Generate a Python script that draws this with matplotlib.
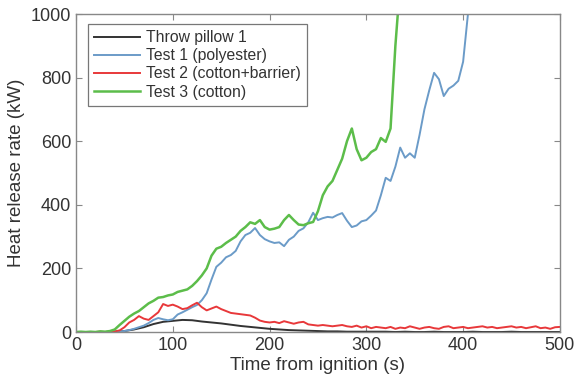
import numpy as np
import matplotlib.pyplot as plt

# heat release rate (kW) at 5 s steps
t_pillow = np.arange(0, 510, 10)
hrr_pillow = [0, 0, 0, 0, 1, 3, 8, 15, 25, 32, 35, 38, 37, 33, 30, 27, 23, 19, 16, 13,
              10, 8, 6, 5, 4, 3, 2, 2, 1, 1, 1, 1, 1, 0, 1, 0, 0, 1, 0, 0,
              0, 1, 0, 0, 0, 1, 0, 0, 0, 0, 0]

t_test1 = np.arange(0, 415, 5)
hrr_test1 = [0, 0, 0, 0, 0, 0, 0, 1, 1, 2, 3, 6, 10, 15, 20, 28, 38, 44, 40, 37,
             40, 55, 62, 70, 78, 85, 100, 122, 165, 205, 218, 235, 242, 255, 285, 305, 312, 327, 305, 292,
             285, 280, 282, 270, 290, 300, 318, 326, 345, 375, 352, 358, 362, 360, 368, 374, 350, 330, 335, 348,
             352, 366, 382, 430, 485, 475, 520, 580, 548, 562, 548, 620, 700, 760, 815, 795, 742, 765, 775, 790,
             850, 1000, 1100]

t_test2 = np.arange(0, 505, 5)
hrr_test2 = [0, 0, 0, 0, 0, 1, 0, 1, 2, 5, 15, 30, 38, 50, 42, 38, 50, 62, 88, 82,
             86, 80, 72, 75, 84, 92, 78, 68, 74, 80, 72, 66, 60, 58, 56, 54, 52, 45, 36, 32,
             30, 32, 28, 34, 30, 26, 30, 32, 24, 22, 20, 22, 20, 18, 20, 22, 18, 16, 20, 14,
             18, 12, 16, 14, 12, 16, 10, 14, 12, 18, 14, 10, 14, 16, 12, 10, 16, 18, 12, 14,
             16, 12, 14, 16, 18, 14, 16, 12, 14, 16, 18, 14, 16, 12, 15, 18, 12, 14, 10, 15,
             16]

t_test3 = np.arange(0, 340, 5)
hrr_test3 = [0, 1, 0, 1, 0, 2, 1, 3, 8, 22, 35, 48, 58, 66, 78, 90, 98, 108, 110, 115,
             118, 126, 130, 134, 145, 160, 178, 200, 240, 262, 268, 280, 290, 300, 318, 330, 345, 340, 352, 330,
             322, 325, 330, 352, 368, 352, 338, 336, 342, 346, 380, 430, 458, 475, 510, 545, 600, 640, 575, 540,
             548, 566, 575, 610, 598, 640, 900, 1100]

labels = ['Throw pillow 1', 'Test 1 (polyester)', 'Test 2 (cotton+barrier)', 'Test 3 (cotton)']
colors = ['#333333', '#6b9bc8', '#e8383a', '#5cbd4a']

plt.rcParams['font.family'] = ['Liberation Sans', 'DejaVu Sans']
plt.rcParams['text.color'] = '#333333'

fig = plt.figure(figsize=(5.79, 3.84), dpi=100)
ax = fig.add_axes([0.1313, 0.1354, 0.8357, 0.8281])

ax.plot(t_pillow, hrr_pillow, color=colors[0], lw=1.4, label=labels[0])
ax.plot(t_test1, hrr_test1, color=colors[1], lw=1.4, label=labels[1])
ax.plot(t_test2, hrr_test2, color=colors[2], lw=1.4, label=labels[2])
ax.plot(t_test3, hrr_test3, color=colors[3], lw=1.8, label=labels[3])

ax.set_xlim(0, 500)
ax.set_ylim(0, 1000)
ax.set_xticks(range(0, 501, 100))
ax.set_yticks(range(0, 1001, 200))
ax.tick_params(direction='in', top=True, right=True, length=4, color='#888888',
               labelsize=13, labelcolor='#333333')
for s in ax.spines.values():
    s.set_color('#888888')
    s.set_linewidth(1.0)

ax.set_xlabel('Time from ignition (s)', fontsize=13.5, color='#333333', labelpad=2)
ax.set_ylabel('Heat release rate (kW)', fontsize=13.5, color='#333333', labelpad=4)

leg = ax.legend(loc='upper left', bbox_to_anchor=(0.025, 0.969), borderaxespad=0,
                fancybox=False, edgecolor='#777777', fontsize=11.3, handlelength=2.9,
                labelspacing=0.2, borderpad=0.4, handletextpad=0.4, framealpha=1)
leg.get_frame().set_linewidth(0.9)

fig.savefig('out.png', dpi=100)
